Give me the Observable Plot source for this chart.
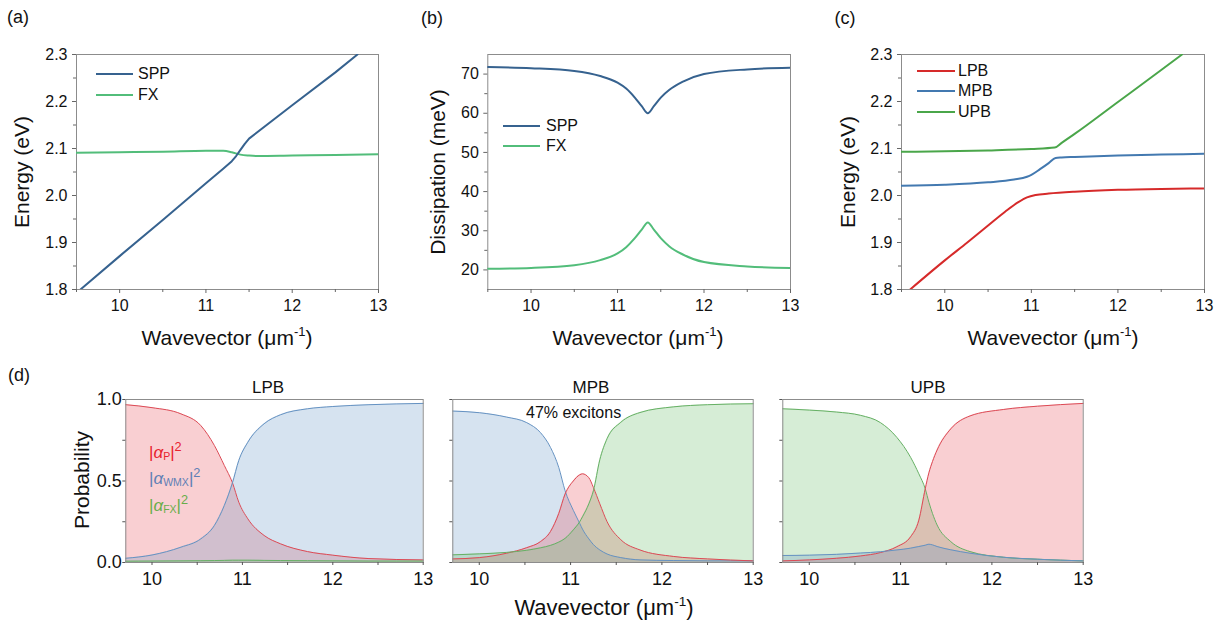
<!DOCTYPE html>
<html><head><meta charset="utf-8">
<script src="https://cdn.jsdelivr.net/npm/d3@7"></script>
<script src="https://cdn.jsdelivr.net/npm/@observablehq/plot@0.6"></script>
<style>
body{margin:0;background:#fff;font-family:"Liberation Sans",Arial,sans-serif;}
#wrap{position:relative;width:1228px;height:623px;overflow:hidden;background:#fff;}
.abs{position:absolute;white-space:nowrap;color:#111;line-height:1;}
.plot{position:absolute;}
.plot svg{overflow:visible;}
sup{font-size:0.62em;vertical-align:0.65em;line-height:0;}
sub{font-size:0.62em;vertical-align:-0.25em;line-height:0;}
.big sup{font-size:0.75em;vertical-align:0.5em;}
.leg{position:absolute;height:2px;}
</style></head><body><div id="wrap"></div>
<script>
// ---------- tick values ----------
const kTicks = [10, 11, 12, 13];
const kMinor = [9.5, 10.5, 11.5, 12.5];
const eTicks = [1.8, 1.9, 2.0, 2.1, 2.2, 2.3];
const eMinor = [1.85, 1.95, 2.05, 2.15, 2.25];
const gTicks = [20, 30, 40, 50, 60, 70];
const gMinor = [25, 35, 45, 55, 65];
const pTicks = [0, 0.5, 1.0];
const pMinor = [0.25, 0.75];

// ---------- (a) uncoupled energies ----------
const sppK = [9.546, 10.0, 10.5, 11.0, 11.2, 11.3, 11.35, 11.4, 11.45, 11.5, 12.0, 12.5, 12.756];
const sppE = [1.800, 1.871, 1.948, 2.026, 2.057, 2.073, 2.084, 2.097, 2.110, 2.121, 2.192, 2.262, 2.300];
const fxK  = [9.5, 10.0, 10.5, 11.0, 11.2, 11.3, 11.4, 11.5, 11.6, 12.0, 12.5, 13.0];
const fxE  = [2.091, 2.092, 2.093, 2.095, 2.095, 2.092, 2.087, 2.085, 2.084, 2.085, 2.086, 2.088];

// ---------- (b) dissipation ----------
const gamK   = [9.5, 10.0, 10.5, 10.8, 11.0, 11.1, 11.2, 11.28, 11.35, 11.42, 11.5, 11.6, 11.75, 12.0, 12.5, 13.0];
const gamSPP = [71.8, 71.5, 70.8, 69.5, 67.8, 66.3, 64.0, 61.8, 60.0, 61.8, 64.0, 66.0, 68.0, 70.0, 71.2, 71.6];
const gamFX  = [20.3, 20.5, 21.2, 22.5, 24.2, 25.8, 28.1, 30.3, 32.1, 30.3, 28.1, 26.0, 24.0, 22.0, 20.9, 20.5];

// ---------- (c) polariton branches ----------
const lpbK = [9.6, 10.0, 10.26, 10.5, 10.7, 10.85, 10.95, 11.05, 11.2, 11.5, 12.0, 12.5, 13.0];
const lpbE = [1.800, 1.862, 1.900, 1.936, 1.966, 1.986, 1.996, 2.001, 2.004, 2.008, 2.012, 2.014, 2.015];
const mpbK = [9.5, 10.0, 10.5, 10.8, 10.95, 11.0, 11.1, 11.2, 11.28, 11.35, 11.5, 12.0, 12.5, 13.0];
const mpbE = [2.021, 2.023, 2.028, 2.034, 2.040, 2.044, 2.056, 2.069, 2.080, 2.081, 2.082, 2.085, 2.087, 2.089];
const upbK = [9.5, 10.0, 10.5, 11.0, 11.27, 11.35, 11.5, 12.0, 12.5, 12.74];
const upbE = [2.093, 2.094, 2.096, 2.099, 2.102, 2.112, 2.131, 2.199, 2.267, 2.300];

// ---------- (d) Hopfield coefficients ----------
const lpbGridK = [9.71, 10.0, 10.32, 10.54, 10.69, 10.80, 10.89, 10.96, 11.06, 11.24, 11.42, 11.72, 12.0, 12.4, 13.0];
const lpbP   = [0.968, 0.950, 0.912, 0.840, 0.718, 0.595, 0.489, 0.370, 0.268, 0.166, 0.115, 0.067, 0.045, 0.024, 0.016];
const lpbWMX = [0.026, 0.046, 0.094, 0.145, 0.227, 0.350, 0.489, 0.626, 0.738, 0.851, 0.906, 0.943, 0.957, 0.968, 0.976];
const lpbFX  = [0.008, 0.009, 0.010, 0.011, 0.012, 0.013, 0.014, 0.014, 0.014, 0.013, 0.012, 0.011, 0.010, 0.009, 0.009];

const mpbGridK = [9.71, 10.0, 10.3, 10.52, 10.67, 10.78, 10.87, 10.94, 11.03, 11.10, 11.13, 11.2, 11.25, 11.32, 11.4, 11.55, 11.76, 12.13, 12.5, 13.0];
const mpbP   = [0.022, 0.030, 0.057, 0.091, 0.128, 0.190, 0.300, 0.420, 0.500, 0.538, 0.544, 0.520, 0.460, 0.360, 0.250, 0.140, 0.077, 0.037, 0.022, 0.010];
const mpbWMX = [0.929, 0.919, 0.892, 0.858, 0.797, 0.706, 0.584, 0.440, 0.320, 0.240, 0.205, 0.145, 0.110, 0.077, 0.052, 0.030, 0.016, 0.012, 0.010, 0.010];
const mpbFX  = [0.047, 0.053, 0.062, 0.075, 0.090, 0.105, 0.125, 0.148, 0.200, 0.250, 0.280, 0.360, 0.440, 0.630, 0.760, 0.860, 0.920, 0.955, 0.968, 0.974];

const upbGridK = [9.71, 10.0, 10.3, 10.56, 10.78, 10.96, 11.11, 11.2, 11.27, 11.31, 11.35, 11.4, 11.55, 11.76, 12.13, 12.5, 13.0];
const upbFX  = [0.943, 0.935, 0.923, 0.903, 0.858, 0.767, 0.645, 0.544, 0.452, 0.370, 0.300, 0.230, 0.128, 0.067, 0.032, 0.020, 0.010];
const upbP   = [0.010, 0.016, 0.026, 0.040, 0.061, 0.097, 0.158, 0.260, 0.452, 0.550, 0.620, 0.690, 0.820, 0.899, 0.939, 0.959, 0.976];
const upbWMX = [0.043, 0.045, 0.050, 0.058, 0.066, 0.077, 0.088, 0.098, 0.106, 0.112, 0.108, 0.098, 0.078, 0.057, 0.032, 0.020, 0.010];

// ---------- helpers ----------
const fontFam = '"Liberation Sans", Arial, sans-serif';
const wrap = document.getElementById("wrap");
const series = (ks, vs) => ks.map((k, i) => ({k, v: vs[i]}));

function place(el, left, top) {
  const d = document.createElement("div");
  d.className = "plot"; d.style.left = left + "px"; d.style.top = top + "px";
  d.appendChild(el); wrap.appendChild(d);
}
function label(html, x, y, o = {}) {
  const d = document.createElement("div");
  d.className = "abs" + (o.cls ? " " + o.cls : ""); d.innerHTML = html;
  d.style.left = x + "px"; d.style.top = y + "px";
  d.style.fontSize = (o.size || 16) + "px";
  if (o.color) d.style.color = o.color;
  d.style.transform = o.rotate ? "translate(-50%,-50%) rotate(-90deg)"
    : (o.start ? "translate(0,-50%)" : "translate(-50%,-50%)");
  wrap.appendChild(d);
}
function legLine(x, y, w, color) {
  const d = document.createElement("div");
  d.className = "leg"; d.style.left = x + "px"; d.style.top = (y - 1) + "px";
  d.style.width = w + "px"; d.style.background = color; wrap.appendChild(d);
}

function linePanel({width, height, mL, mR, mT, mB, yDomain, yTicks, yMinor, yFmt, lines}) {
  return Plot.plot({
    width, height, marginLeft: mL, marginRight: mR, marginTop: mT, marginBottom: mB,
    x: {domain: [9.5, 13]}, y: {domain: yDomain},
    style: {fontFamily: fontFam, fontSize: "16px", color: "#111", background: "transparent", overflow: "visible"},
    marks: [
      Plot.frame({stroke: "#8c8c8c"}),
      Plot.axisX(kTicks, {tickSize: 4, tickPadding: 6, label: null, stroke: "#666"}),
      Plot.axisX(kMinor, {tickSize: 3, tickFormat: () => "", label: null, stroke: "#666"}),
      Plot.axisY(yTicks, {tickSize: 4, tickPadding: 5, label: null, tickFormat: yFmt, stroke: "#666"}),
      Plot.axisY(yMinor, {tickSize: 3, tickFormat: () => "", label: null, stroke: "#666"}),
      ...lines.map(l => Plot.line(l.data, {x: "k", y: "v", stroke: l.color, strokeWidth: 2, curve: l.curve || "monotone-x", clip: true}))
    ]
  });
}

function probPanel({width, mL, mR, showY, layers}) {
  return Plot.plot({
    width, height: 240, marginLeft: mL, marginRight: mR, marginTop: 39, marginBottom: 38,
    x: {domain: [9.71, 13]}, y: {domain: [0, 1]},
    style: {fontFamily: fontFam, fontSize: "18px", color: "#111", background: "transparent", overflow: "visible"},
    marks: [
      ...layers.map(l => Plot.areaY(l.data, {x: "k", y: "v", fill: l.fill, fillOpacity: 0.25, curve: "monotone-x"})),
      ...layers.map(l => Plot.lineY(l.data, {x: "k", y: "v", stroke: l.stroke, strokeWidth: 1, curve: "monotone-x"})),
      Plot.frame({stroke: "#8c8c8c"}),
      Plot.axisX(kTicks, {tickSize: 3, tickPadding: 7, label: null, stroke: "#555"}),
      Plot.axisX([10.5, 11.5, 12.5], {tickSize: 3, tickFormat: () => "", label: null, stroke: "#555"}),
      Plot.axisY(pTicks, {tickSize: 3, tickPadding: 1, label: null, stroke: "#555",
        tickFormat: showY ? d3.format(".1f") : () => ""}),
      Plot.axisY(pMinor, {tickSize: 3, tickFormat: () => "", label: null, stroke: "#555"})
    ]
  });
}

// colours
const cSPP = "#36628f", cFX = "#52bd7a";
const cLPB = "#d62a2a", cMPB = "#4379b0", cUPB = "#4aa64a";
const red = {fill: "#e8414b", stroke: "#dc4a55"};
const blue = {fill: "#5b8ec4", stroke: "#6592c2"};
const green = {fill: "#5db85d", stroke: "#66b064"};

// ---------- (a) ----------
place(linePanel({width: 400, height: 340, mL: 76, mR: 22, mT: 54, mB: 51,
  yDomain: [1.8, 2.3], yTicks: eTicks, yMinor: eMinor, yFmt: d3.format(".1f"),
  lines: [{data: series(fxK, fxE), color: cFX}, {data: series(sppK, sppE), color: cSPP, curve: "linear"}]}), 0, 0);

// ---------- (b) ----------
place(linePanel({width: 420, height: 340, mL: 87.3, mR: 30, mT: 54, mB: 51,
  yDomain: [15, 75], yTicks: gTicks, yMinor: gMinor, yFmt: d3.format("d"),
  lines: [{data: series(gamK, gamSPP), color: cSPP}, {data: series(gamK, gamFX), color: cFX}]}), 400, 0);

// ---------- (c) ----------
place(linePanel({width: 408, height: 340, mL: 81, mR: 24, mT: 54, mB: 51,
  yDomain: [1.8, 2.3], yTicks: eTicks, yMinor: eMinor, yFmt: d3.format(".1f"),
  lines: [{data: series(lpbK, lpbE), color: cLPB}, {data: series(mpbK, mpbE), color: cMPB}, {data: series(upbK, upbE), color: cUPB}]}), 820, 0);

// ---------- (d) ----------
place(probPanel({width: 440, mL: 125.3, mR: 17.3, showY: true, layers: [
  {data: series(lpbGridK, lpbP), ...red},
  {data: series(lpbGridK, lpbWMX), ...blue},
  {data: series(lpbGridK, lpbFX), ...green}]}), 0, 360);
place(probPanel({width: 330, mL: 12.3, mR: 17.3, showY: false, layers: [
  {data: series(mpbGridK, mpbWMX), ...blue},
  {data: series(mpbGridK, mpbP), ...red},
  {data: series(mpbGridK, mpbFX), ...green}]}), 440, 360);
place(probPanel({width: 330, mL: 12.3, mR: 17.3, showY: false, layers: [
  {data: series(upbGridK, upbFX), ...green},
  {data: series(upbGridK, upbP), ...red},
  {data: series(upbGridK, upbWMX), ...blue}]}), 770, 360);

// ---------- text ----------
const wv = 'Wavevector (&mu;m<sup>-1</sup>)';
label("(a)", 18, 17, {size: 18});
label("(b)", 432, 18, {size: 18});
label("(c)", 845, 18, {size: 18});
label("(d)", 19, 375, {size: 18});

label("Energy (eV)", 21, 172, {size: 21, rotate: true});
label("Dissipation (meV)", 437, 172, {size: 21, rotate: true});
label("Energy (eV)", 847, 172, {size: 21, rotate: true});
label(wv, 227, 337, {size: 21});
label(wv, 638, 337, {size: 21});
label(wv, 1053, 337, {size: 21});

// legends
legLine(96, 74, 37, cSPP); label("SPP", 138, 74, {size: 16, start: true});
legLine(96, 95, 37, cFX);  label("FX", 138, 95, {size: 16, start: true});
legLine(503, 126, 37, cSPP); label("SPP", 546, 126, {size: 16, start: true});
legLine(503, 146, 37, cFX);  label("FX", 546, 146, {size: 16, start: true});
legLine(917, 71, 38, cLPB); label("LPB", 958, 71, {size: 16, start: true});
legLine(917, 91, 38, cMPB); label("MPB", 958, 91, {size: 16, start: true});
legLine(917, 112, 38, cUPB); label("UPB", 958, 112, {size: 16, start: true});

// (d) annotations
label("LPB", 268, 387, {size: 17});
label("MPB", 591, 387, {size: 17});
label("UPB", 928, 387, {size: 17});
label("Probability", 81, 480, {size: 21, rotate: true});
label(wv, 604, 608, {size: 22});
label("47% excitons", 526, 413, {size: 16, start: true});
label('|<i>&alpha;</i><sub>P</sub>|<sup>2</sup>', 149, 452, {size: 17, color: "#e8232e", start: true, cls: "big"});
label('|<i>&alpha;</i><sub>WMX</sub>|<sup>2</sup>', 149, 478, {size: 17, color: "#5f7fb5", start: true, cls: "big"});
label('|<i>&alpha;</i><sub>FX</sub>|<sup>2</sup>', 149, 505, {size: 17, color: "#68ad4a", start: true, cls: "big"});
</script>
</body></html>
